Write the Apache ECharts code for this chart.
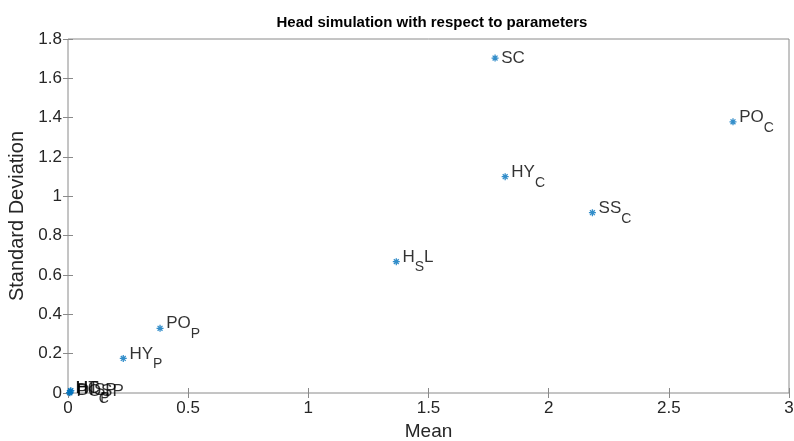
<!DOCTYPE html>
<html><head><meta charset="utf-8">
<script src="https://cdn.jsdelivr.net/npm/echarts@6/dist/echarts.min.js"></script>
<style>html,body{margin:0;padding:0;background:#fff}#c{width:794px;height:441px}</style>
</head><body><div id="c"></div>
<script>
// Data
const labelMain = ["SC", "PO", "HY", "SS", "H", "PO", "HY", "DISP", "POSP", "HC", "HT"];
const labelSub  = ["",   "C",  "C",  "C",  "S", "P",  "P",  "",     "",     "P",  "C"];
const labelTail = ["",   "",   "",   "",   "L", "",   "",   "",     "",     "",   ""];
const means     = [1.777, 2.767, 1.819, 2.182, 1.366, 0.383, 0.230, 0.012, 0.010, 0.006, 0.008];
const stds      = [1.703, 1.379, 1.100, 0.917, 0.668, 0.329, 0.176, 0.012, 0.010, 0.002, 0.001];
const xTicks = [0, 0.5, 1, 1.5, 2, 2.5, 3];
const yTicks = [0, 0.2, 0.4, 0.6, 0.8, 1, 1.2, 1.4, 1.6, 1.8];

const FONT = '"Liberation Sans", Arial, Helvetica, sans-serif';
const chart = echarts.init(document.getElementById('c'), null, {renderer: 'canvas'});
const data = means.map((m, i) => ({value: [m, stds[i]], idx: i}));
const star = 'path://M0,-5L0,5M-5,0L5,0M-3.5,-3.5L3.5,3.5M-3.5,3.5L3.5,-3.5';
const axisCommon = {
  axisLine: {show: false},
  splitLine: {show: false},
  axisTick: {show: true, inside: true, length: 5, lineStyle: {color: '#8a8a8a', width: 1}},
};
chart.setOption({
  animation: false,
  title: {
    text: 'Head simulation with respect to parameters',
    left: 427, top: 10, textAlign: 'center',
    textStyle: {fontFamily: FONT, fontSize: 15, fontWeight: 'bold', color: '#000'}
  },
  grid: {left: 68, right: 5, top: 39, bottom: 48, show: true, borderColor: '#8a8a8a', borderWidth: 1,
    backgroundColor: '#fff', containLabel: false, outerBoundsMode: 'none'},
  xAxis: [
    Object.assign({type: 'value', min: 0, max: 3, interval: 0.5, position: 'bottom',
      name: 'Mean', nameLocation: 'middle', nameGap: 27,
      nameTextStyle: {fontFamily: FONT, fontSize: 19, color: '#262626'},
      axisLabel: {fontFamily: FONT, fontSize: 17, color: '#262626', margin: 7,
        formatter: v => String(v)}}, axisCommon),
    Object.assign({type: 'value', min: 0, max: 3, interval: 0.5, position: 'top', axisLabel: {show: false}}, axisCommon)
  ],
  yAxis: [
    Object.assign({type: 'value', min: 0, max: 1.8, interval: 0.2, position: 'left',
      name: 'Standard Deviation', nameLocation: 'middle', nameGap: 35,
      nameTextStyle: {fontFamily: FONT, fontSize: 20, color: '#262626'},
      axisLabel: {fontFamily: FONT, fontSize: 17, color: '#262626', margin: 6,
        formatter: v => String(Math.round(v * 10) / 10)}}, axisCommon),
    Object.assign({type: 'value', min: 0, max: 1.8, interval: 0.2, position: 'right', axisLabel: {show: false}}, axisCommon)
  ],
  series: [{
    type: 'scatter',
    data: data,
    symbol: star,
    symbolSize: 7,
    itemStyle: {color: 'rgba(0,0,0,0)', borderColor: '#0072BD', borderWidth: 1.3},
    label: {
      show: true, position: 'right', distance: 2,
      formatter: p => {
        const i = p.data.idx;
        if (!labelSub[i]) return '{c|' + labelMain[i] + '}';
        let s = '{a|' + labelMain[i] + '}{b|' + labelSub[i] + '}';
        if (labelTail[i]) s += '{a|' + labelTail[i] + '}';
        return s;
      },
      rich: {
        a: {fontFamily: FONT, fontSize: 17, color: '#000', verticalAlign: 'top', lineHeight: 26},
        b: {fontFamily: FONT, fontSize: 14, color: '#000', verticalAlign: 'bottom', lineHeight: 26},
        c: {fontFamily: FONT, fontSize: 17, color: '#000', lineHeight: 18}
      }
    }
  }]
});
</script></body></html>
